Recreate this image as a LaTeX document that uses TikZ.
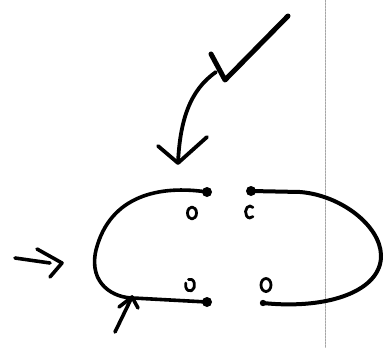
\documentclass[tikz,border=0pt]{standalone}
\begin{document}
\begin{tikzpicture}[x=1pt,y=-1pt,line cap=round,line join=round,
  ink/.style={draw=black,line width=3.6pt},
  heavy/.style={draw=black,line width=5pt},
  ring/.style={draw=black,line width=2.8pt}]
\useasboundingbox (0,0) rectangle (389,348);
% vertical dotted rule
\draw[gray!70,line width=0.7pt,dash pattern=on 2pt off 1pt] (325,0) -- (325,348);
% named points
\coordinate (z0) at (288,16);
\coordinate (z1) at (225,80);
\coordinate (z2) at (211,54);
\coordinate (cs) at (216,72);
\coordinate (tip) at (178,163);
\coordinate (hl) at (158,146);
\coordinate (hr) at (207,137);
% big zigzag arrow
\draw[heavy] (z0) -- (z1) -- (z2);
\draw[line width=3.8pt] (cs) .. controls (190,90) and (180,120) .. (tip);
\draw[line width=3.8pt] (hl) -- (tip) -- (hr);
% left C
\coordinate (ld1) at (207,192);
\coordinate (ld2) at (207,302);
\draw[ink] (ld1) .. controls (160,185) and (110,195) .. (96,250)
  .. controls (88,285) and (115,298) .. (133,298) -- (ld2);
\fill (ld1) circle (5);
\fill (ld2) circle (5);
% right C
\coordinate (rd1) at (251,191);
\coordinate (rd2) at (263,303);
\draw[line width=4pt] (rd1) -- (300,192) .. controls (340,195) and (380,225) .. (381,255)
  .. controls (382,290) and (330,310) .. (rd2);
\fill (rd1) circle (5);
\fill (rd2) circle (3.2);
% small rings
\draw[ring] (192,213) ellipse (4.5 and 6);
\draw[ring] (252.9,216.6) arc (50:310:4.5 and 6);
\draw[ring] (188.5,279.4) arc (250:560:4.5 and 6);
\draw[ring] (266,285) ellipse (5 and 6.5);
% left small arrow
\coordinate (la0) at (15,258);
\coordinate (la1) at (50,263);
\draw[ink] (la0) -- (la1);
\draw[ink] (37,249) -- (62,263) -- (50,277);
% bottom small arrow
\coordinate (ba0) at (115,332);
\coordinate (ba1) at (132,297);
\draw[ink] (ba0) -- (ba1);
\draw[ink] (119,307) -- (132,297) -- (138,308);
\end{tikzpicture}
\end{document}
